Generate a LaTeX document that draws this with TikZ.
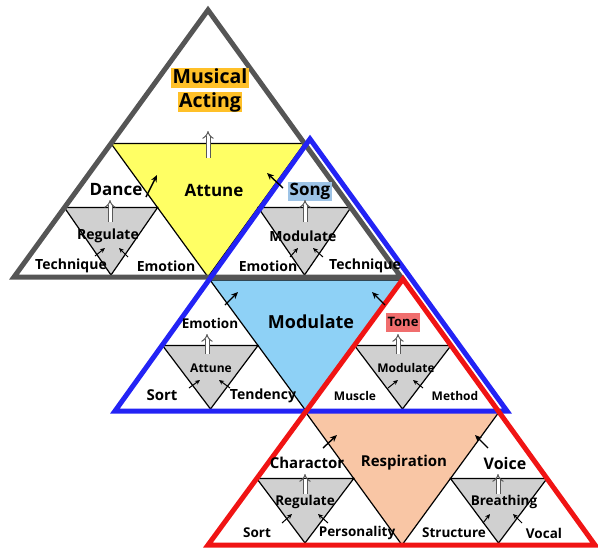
\documentclass[tikz,border=0pt]{standalone}
\usepackage{fontspec}
\setmainfont{Open Sans}
\usepackage{tikz}
\usetikzlibrary{positioning, calc, arrows.meta}
\definecolor{edgegray}{RGB}{85, 85, 85}
\definecolor{edgeblue}{RGB}{35, 35, 245}
\definecolor{edgered}{RGB}{240, 20, 20}
\definecolor{attuneyellow}{RGB}{255, 255, 100}
\definecolor{modulateblue}{RGB}{142, 209, 246}
\definecolor{respirpeach}{RGB}{249, 198, 165}
\definecolor{innergray}{RGB}{208, 208, 208}
\definecolor{hlgold}{RGB}{255, 192, 40}
\definecolor{hlsteel}{RGB}{157, 195, 230}
\definecolor{hlrose}{RGB}{240, 110, 110}

\begin{document}
\begin{tikzpicture}[
			x=1pt, y=-1pt,
			frame/.style={line width=5pt, line join=miter},
			core/.style={draw=black, line width=1.2pt},
			innertri/.style={fill=innergray, draw=black, line width=1.2pt},
			bigword/.style={font=\fontsize{17}{19}\selectfont\bfseries, inner sep=1pt},
			word/.style={font=\fontsize{14}{16}\selectfont\bfseries, inner sep=1pt},
			smallword/.style={font=\fontsize{12}{14}\selectfont\bfseries, inner sep=1pt},
			marker/.style={fill=#1, inner xsep=1.5pt, inner ysep=1pt, text height=13pt, text depth=4pt},
			rise/.style={draw=black!65, double=white, double distance=3pt, line width=1pt, -{Implies}},
			pointer/.style={-{Stealth[length=5pt, width=4.5pt]}, line width=1pt},
			bigpointer/.style={-{Stealth[length=7pt, width=6pt]}, line width=1.4pt}
		]
		\useasboundingbox (0,0) rectangle (598,549);

		% block corners (apex, left, right)
		\coordinate (danA) at (111,143.5); \coordinate (danL) at (14,277); \coordinate (danR) at (208,277);
		\coordinate (sonA) at (304.5,143.5); \coordinate (sonL) at (208,277); \coordinate (sonR) at (401,277);
		\coordinate (emoA) at (210,280); \coordinate (emoL) at (115,411); \coordinate (emoR) at (306,411);
		\coordinate (tonA) at (403,280); \coordinate (tonL) at (306,411); \coordinate (tonR) at (499,411);
		\coordinate (chaA) at (305.5,412); \coordinate (chaL) at (208,545); \coordinate (chaR) at (402,545);
		\coordinate (voiA) at (499,412); \coordinate (voiL) at (402,545); \coordinate (voiR) at (595,545);

		% central triangles
		\filldraw[core, fill=attuneyellow] (danA) -- (sonA) -- (danR) -- cycle;
		\filldraw[core, fill=modulateblue] (emoA) -- (tonA) -- (emoR) -- cycle;
		\filldraw[core, fill=respirpeach] (chaA) -- (voiA) -- (chaR) -- cycle;

		% inner gray triangles
		\filldraw[innertri] ($(danA)!.48!(danL)$) -- ($(danA)!.48!(danR)$) -- ($(danL)!.5!(danR)+(0,-2)$) -- cycle;
		\filldraw[innertri] ($(sonA)!.48!(sonL)$) -- ($(sonA)!.48!(sonR)$) -- ($(sonL)!.5!(sonR)+(0,-2)$) -- cycle;
		\filldraw[innertri] ($(emoA)!.5!(emoL)$) -- ($(emoA)!.5!(emoR)$) -- ($(emoL)!.5!(emoR)+(0,-2)$) -- cycle;
		\filldraw[innertri] ($(tonA)!.5!(tonL)$) -- ($(tonA)!.5!(tonR)$) -- ($(tonL)!.5!(tonR)+(0,-2)$) -- cycle;
		\filldraw[innertri] ($(chaA)!.5!(chaL)$) -- ($(chaA)!.5!(chaR)$) -- ($(chaL)!.5!(chaR)+(0,-2)$) -- cycle;
		\filldraw[innertri] ($(voiA)!.5!(voiL)$) -- ($(voiA)!.5!(voiR)$) -- ($(voiL)!.5!(voiR)+(0,-2)$) -- cycle;

		% outer frames
		\draw[frame, edgegray] (208,10) -- (14,277) -- (401,277) -- cycle;
		\draw[frame, edgeblue] (310,139) -- (115,411) -- (507,411) -- cycle;
		\draw[frame, edgered] (403,279) -- (208,545) -- (595,545) -- cycle;

		% top
		\node (musical) [bigword, marker=hlgold, font=\fontsize{19.5}{21}\selectfont\bfseries, text height=14pt] at (210,78) {Musical};
		\node (acting) [bigword, marker=hlgold, font=\fontsize{19.5}{21}\selectfont\bfseries, text height=14pt, below=4pt of musical] {Acting};
		\node (attune) [bigword] at (214,190) {Attune};
		\node (dance) [bigword] at (116,190) {Dance};
		\node (song) [bigword, marker=hlsteel] at (310,191) {Song};

		\node (regulate1) [word] at (108,236) {Regulate};
		\node (technique1) [word] at (71,266) {Technique};
		\node (emotion1) [word] at (166,266) {Emotion};

		\node (modulate1) [word] at (303,236) {Modulate};
		\node (emotion2) [word] at (268,266) {Emotion};
		\node (technique2) [word] at (365,266) {Technique};

		% middle
		\node (modulate) [bigword, font=\fontsize{18}{20}\selectfont\bfseries] at (311,322) {Modulate};
		\node (emotion3) [word, font=\fontsize{13.5}{15}\selectfont\bfseries] at (210,323) {Emotion};
		\node (attune2) [smallword] at (211,368) {Attune};
		\node (sort1) [bigword, font=\fontsize{15}{17}\selectfont\bfseries] at (162,395) {Sort};
		\node (tendency) [word] at (263,396) {Tendency};

		\node (tone) [smallword, font=\fontsize{13}{15}\selectfont\bfseries, marker=hlrose, text height=13pt, text depth=4pt] at (403,322) {Tone};
		\node (modulate2) [smallword] at (406,368) {Modulate};
		\node (muscle) [smallword] at (355,396) {Muscle};
		\node (method) [smallword] at (455,396) {Method};

		% bottom
		\node (respiration) [bigword, font=\fontsize{15}{17}\selectfont\bfseries] at (404,463) {Respiration};
		\node (charactor) [bigword, font=\fontsize{15}{17}\selectfont\bfseries] at (307,463) {Charactor};
		\node (voice) [bigword, font=\fontsize{16}{18}\selectfont\bfseries] at (505,463) {Voice};

		\node (regulate2) [word, font=\fontsize{13.5}{15}\selectfont\bfseries] at (305,502) {Regulate};
		\node (sort2) [word, font=\fontsize{13.5}{15}\selectfont\bfseries] at (257,533) {Sort};
		\node (personality) [word, font=\fontsize{13.5}{15}\selectfont\bfseries] at (357,533) {Personality};

		\node (breathing) [word, font=\fontsize{13.5}{15}\selectfont\bfseries] at (504,502) {Breathing};
		\node (structure) [word, font=\fontsize{13.5}{15}\selectfont\bfseries] at (454,533) {Structure};
		\node (vocal) [word, font=\fontsize{13.5}{15}\selectfont\bfseries] at (544,533) {Vocal};

		% arrow ends
		\coordinate (topS) at (208,158); \coordinate (topE) at (208,131);
		\coordinate (attLS) at (146,197); \coordinate (attLE) at (157,175);
		\coordinate (attRS) at (283,188); \coordinate (attRE) at (267,173);
		\coordinate (danS) at (110,222); \coordinate (danE) at (110,200);
		\coordinate (danLS) at (95,256); \coordinate (danLE) at (105,248);
		\coordinate (danRS) at (128,257); \coordinate (danRE) at (119,248);
		\coordinate (sonS) at (305,222); \coordinate (sonE) at (305,200);
		\coordinate (sonLS) at (290,257); \coordinate (sonLE) at (298,248);
		\coordinate (sonRS) at (323,257); \coordinate (sonRE) at (313,248);
		\coordinate (modLS) at (225,305); \coordinate (modLE) at (238,292);
		\coordinate (modRS) at (385,305); \coordinate (modRE) at (372,292);
		\coordinate (emoS) at (207,354); \coordinate (emoE) at (207,334);
		\coordinate (emoLS) at (189,388); \coordinate (emoLE) at (200,380);
		\coordinate (emoRS) at (230,388); \coordinate (emoRE) at (219,380);
		\coordinate (tonS) at (398,354); \coordinate (tonE) at (398,334);
		\coordinate (tonLS) at (388,388); \coordinate (tonLE) at (398,380);
		\coordinate (tonRS) at (423,388); \coordinate (tonRE) at (413,380);
		\coordinate (resLS) at (323,448); \coordinate (resLE) at (337,435);
		\coordinate (resRS) at (488,448); \coordinate (resRE) at (475,435);
		\coordinate (chaS) at (305,494); \coordinate (chaE) at (305,474);
		\coordinate (chaLS) at (282,523); \coordinate (chaLE) at (292,514);
		\coordinate (chaRS) at (328,523); \coordinate (chaRE) at (318,514);
		\coordinate (voiS) at (498,494); \coordinate (voiE) at (498,474);
		\coordinate (voiLS) at (483,523); \coordinate (voiLE) at (490,514);
		\coordinate (voiRS) at (522,523); \coordinate (voiRE) at (513,514);

		\draw[rise] (topS) -- (topE);
		\draw[rise] (danS) -- (danE);
		\draw[rise] (sonS) -- (sonE);
		\draw[rise] (emoS) -- (emoE);
		\draw[rise] (tonS) -- (tonE);
		\draw[rise] (chaS) -- (chaE);
		\draw[rise] (voiS) -- (voiE);

		\draw[bigpointer] (attLS) -- (attLE);
		\draw[bigpointer] (attRS) -- (attRE);
		\draw[bigpointer] (modLS) -- (modLE);
		\draw[bigpointer] (modRS) -- (modRE);
		\draw[bigpointer] (resLS) -- (resLE);
		\draw[bigpointer] (resRS) -- (resRE);

		\draw[pointer] (danLS) -- (danLE);
		\draw[pointer] (danRS) -- (danRE);
		\draw[pointer] (sonLS) -- (sonLE);
		\draw[pointer] (sonRS) -- (sonRE);
		\draw[pointer] (emoLS) -- (emoLE);
		\draw[pointer] (emoRS) -- (emoRE);
		\draw[pointer] (tonLS) -- (tonLE);
		\draw[pointer] (tonRS) -- (tonRE);
		\draw[pointer] (chaLS) -- (chaLE);
		\draw[pointer] (chaRS) -- (chaRE);
		\draw[pointer] (voiLS) -- (voiLE);
		\draw[pointer] (voiRS) -- (voiRE);

	\end{tikzpicture}
\end{document}
